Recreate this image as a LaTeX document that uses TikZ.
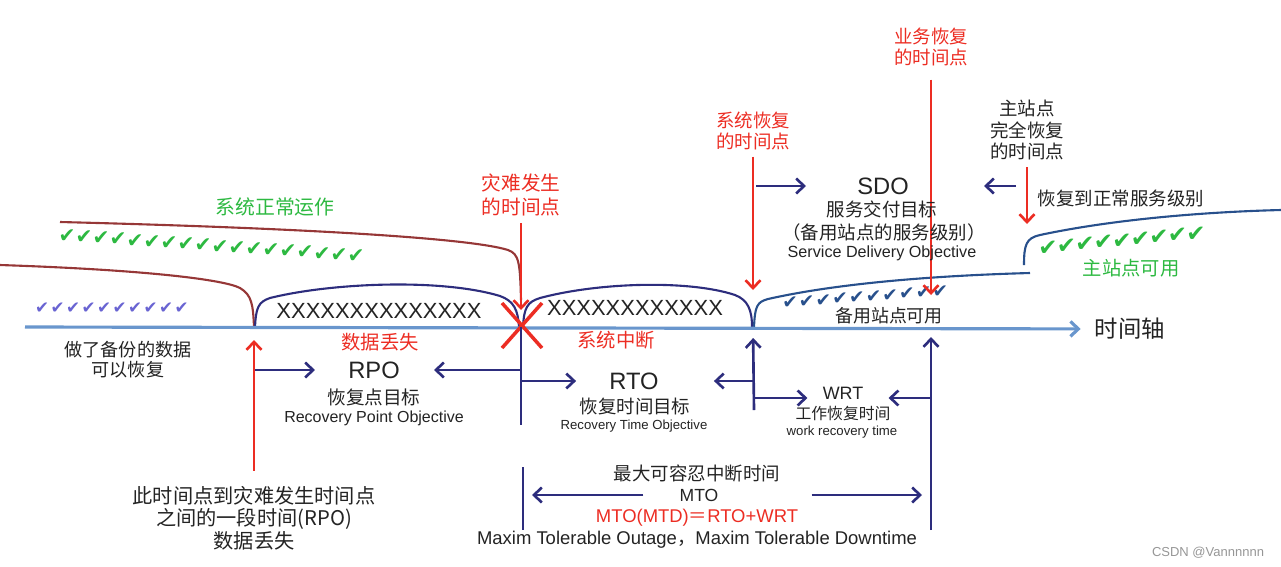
\documentclass[tikz,border=0pt]{standalone}
\usepackage{fontspec}
\setmainfont{Liberation Sans}
\newfontfamily\cjk{Noto Sans CJK SC}
\newfontfamily\dejavu{DejaVu Sans}
\usetikzlibrary{arrows.meta}
\definecolor{red1}{RGB}{236, 45, 35}
\definecolor{green1}{RGB}{45, 185, 65}
\definecolor{navy1}{RGB}{45, 45, 125}
\definecolor{brown1}{RGB}{150, 55, 55}
\definecolor{blue1}{RGB}{40, 80, 140}
\definecolor{axis1}{RGB}{105, 150, 205}
\definecolor{purple1}{RGB}{105, 100, 210}
\definecolor{ink1}{RGB}{35, 35, 35}
\definecolor{gray1}{RGB}{150, 150, 150}
\newcommand{\fsz}[2]{\fontsize{#1}{#2}\selectfont}

\begin{document}
\begin{tikzpicture}[x=0.02cm, y=-0.02cm, line width=1.5pt,
  >={Straight Barb[length=4.5pt,width=8.5pt]},
  txt/.style={inner sep=0pt, align=center, text=ink1},
  zh/.style={txt, font=\cjk\fsz{10.5pt}{12.2pt}},
  redzh/.style={zh, text=red1},
  title/.style={txt, font=\fsz{13.5pt}{14pt}},
  navyarr/.style={draw=navy1, ->},
  redarr/.style={draw=red1, ->},
  curve/.style={line width=1.2pt},
  gchk/.style={inner sep=0pt, text=green1, font=\dejavu\fsz{11.5pt}{11.5pt}},
  pchk/.style={inner sep=0pt, text=purple1, font=\dejavu\fsz{9.5pt}{9.5pt}},
  bchk/.style={inner sep=0pt, text=blue1, font=\dejavu\fsz{10.5pt}{10.5pt}}]
\useasboundingbox (0,0) rectangle (1281,566);

% service level curves
\draw[curve, brown1] (60,222) .. controls (300,228) and (470,238) .. (508,250) .. controls (519,254) and (520,262) .. (521,300);
\draw[curve, brown1] (0,265) .. controls (150,270) and (225,280) .. (240,288) .. controls (252,295) and (253,305) .. (254,327);
\draw[curve, navy1] (255,327) .. controls (256,308) and (258,302) .. (270,298) .. controls (330,283) and (440,278) .. (500,296) .. controls (514,301) and (518,310) .. (519,327);
\draw[curve, navy1] (523,327) .. controls (524,308) and (527,302) .. (540,298) .. controls (600,282) and (690,280) .. (735,295) .. controls (748,300) and (752,310) .. (752,327);
\draw[curve, blue1] (754,327) .. controls (755,306) and (757,302) .. (768,299) .. controls (830,285) and (920,276) .. (1030,273);
\draw[curve, blue1] (1024,265) .. controls (1024,245) and (1026,238) .. (1040,235) .. controls (1110,220) and (1200,212) .. (1281,210);

% checks
\foreach \i in {0,...,17}
  \node[gchk] (gl\i) at ({67+17*\i},{236+1.18*\i}) {✔};
\foreach \i in {0,...,9}
  \node[pchk] (pl\i) at ({42+15.5*\i},308) {✔};
\foreach \i in {0,...,9}
  \node[bchk] (bm\i) at ({790+16.7*\i},{303-1.3*\i}) {✔};
\foreach \i in {0,...,8}
  \node[gchk, font=\dejavu\fsz{13pt}{13pt}] (gr\i) at ({1048+18.5*\i},{248-1.75*\i}) {✔};

% time axis
\coordinate (t0) at (25,327);
\coordinate (tloss) at (254,327);
\coordinate (tdis) at (521,327);
\coordinate (tsys) at (753,327);
\coordinate (tbiz) at (931,327);
\node[zh, font=\cjk\fsz{13.3pt}{14pt}] (axlbl) at (1130,329) {时间轴};
\draw[axis1, line width=1.8pt, ->, shorten >=0.26cm] (t0) -- (axlbl);
\draw[red1, line width=2pt] (502,303) -- (542,348) (542,303) -- (502,348);

% labels on the levels
\node[zh, text=green1, font=\cjk\fsz{11.3pt}{12pt}] (normal) at (275,207) {系统正常运作};
\node[txt, font=\fsz{12.5pt}{13pt}] (xx1) at (379,311) {XXXXXXXXXXXXXX};
\node[txt, font=\fsz{12.5pt}{13pt}] (xx2) at (635,308) {XXXXXXXXXXXX};
\node[redzh, font=\cjk\fsz{11pt}{12pt}] (lossA) at (380,342) {数据丢失};
\node[redzh, font=\cjk\fsz{11pt}{12pt}] (outage) at (616,340) {系统中断};
\node[zh, font=\cjk\fsz{10.3pt}{11.4pt}] (backup) at (128,360) {做了备份的数据\\可以恢复};
\node[zh] (restore) at (1121,198) {恢复到正常服务级别};
\node[zh, text=green1, font=\cjk\fsz{11pt}{12pt}] (mainok) at (1131,268) {主站点可用};
\node[zh, font=\cjk\fsz{10.2pt}{12pt}] (standby) at (889,316) {备用站点可用};

% time points
\node[redzh, font=\cjk\fsz{11.2pt}{13.2pt}] (dis) at (521,195) {灾难发生\\的时间点};
\draw[redarr, shorten <=0.12cm, shorten >=0.34cm] (dis) -- (tdis);
\node[redzh] (sysrec) at (753,131) {系统恢复\\的时间点};
\draw[redarr, shorten <=0.1cm, shorten >=0.74cm] (sysrec) -- (tsys);
\node[redzh] (bizrec) at (931,47) {业务恢复\\的时间点};
\draw[redarr, shorten <=0.24cm, shorten >=0.64cm] (bizrec) -- (tbiz);
\node[zh] (mainrec) at (1027,130) {主站点\\完全恢复\\的时间点};
\coordinate (tmain) at (1027,224);
\draw[redarr, shorten <=0.12cm] (mainrec) -- (tmain);
\node[zh, font=\cjk\fsz{11.5pt}{12.8pt}] (losstxt) at (254,518) {此时间点到灾难发生时间点\\之间的一段时间(RPO)\\数据丢失};
\draw[redarr, shorten <=0.28cm, shorten >=0.26cm] (losstxt) -- (tloss);

% RPO
\node[title] (rpo) at (374,370) {RPO};
\node[zh, font=\cjk\fsz{10.6pt}{12pt}] (rpozh) at (374,397) {恢复点目标};
\node[txt, font=\fsz{9.1pt}{10pt}] (rpoen) at (374,418) {Recovery Point Objective};
\coordinate (rpoL) at (255,370);
\coordinate (rpoR) at (521,370);
\draw[navyarr, shorten >=0.64cm] (rpoL) -- (rpo);
\draw[navyarr, shorten >=0.66cm] (rpoR) -- (rpo);

% RTO
\coordinate (rtoB) at (521,425);
\draw[navy1] (tdis) -- (rtoB);
\node[title] (rto) at (634,381) {RTO};
\node[zh] (rtozh) at (635,406) {恢复时间目标};
\node[txt, font=\fsz{7.5pt}{9pt}] (rtoen) at (634,426) {Recovery Time Objective};
\coordinate (rtoL) at (521,381);
\coordinate (rtoR) at (754,381);
\draw[navyarr, shorten >=0.64cm] (rtoL) -- (rto);
\draw[navyarr, shorten >=1.08cm] (rtoR) -- (rto);

% WRT
\node[txt, font=\fsz{10.2pt}{11pt}] (wrt) at (843,393) {WRT};
\node[zh, font=\cjk\fsz{9pt}{10pt}] (wrtzh) at (843,413) {工作恢复时间};
\node[txt, font=\fsz{7.5pt}{9pt}] (wrten) at (842,432) {work recovery time};
\coordinate (wrtB) at (754,410);
\coordinate (wrtL) at (754,398);
\coordinate (wrtR) at (931,398);
\draw[navyarr, shorten >=0.22cm] (wrtB) -- (tsys);
\draw[navyarr, shorten >=0.28cm] (wrtL) -- (wrtL -| wrt.west);
\draw[navyarr, shorten >=0.48cm] (wrtR) -- (wrtR -| wrt.east);

% MTO
\coordinate (mtoT) at (523,467);
\coordinate (mtoL) at (523,530);
\coordinate (mtoR) at (931,530);
\draw[navy1] (mtoT) -- (mtoL);
\draw[navyarr, shorten >=0.2cm] (mtoR) -- (tbiz);
\node[zh] (mtozh) at (697,473) {最大可容忍中断时间};
\node[txt, font=\fsz{10pt}{11pt}] (mto) at (699,495) {MTO};
\node[txt, text=red1, font=\fsz{10.5pt}{12pt}] (mtoeq) at (697,518) {MTO(MTD){\cjk ＝}RTO+WRT};
\node[txt, font=\fsz{10.5pt}{12pt}] (mtoen) at (697,540) {Maxim Tolerable Outage{\cjk ，}Maxim Tolerable Downtime};
\draw[navyarr, shorten <=0.7cm, shorten >=0.18cm] (mto.west) -- (mto.west -| mtoT);
\draw[navyarr, shorten <=1.84cm, shorten >=0.18cm] (mto.east) -- (mto.east -| mtoR);

% SDO
\node[title] (sdo) at (883,186) {SDO};
\node[zh] (sdozh) at (882,209) {服务交付目标};
\node[zh] (sdolvl) at (884,232) {（备用站点的服务级别）};
\node[txt, font=\fsz{9.2pt}{10pt}] (sdoen) at (882,253) {Service Delivery Objective};
\coordinate (sdoL) at (756,186);
\coordinate (sdoR) at (1016,186);
\draw[navyarr, shorten >=1cm] (sdoL) -- (sdo);
\draw[navyarr, shorten >=1.48cm] (sdoR) -- (sdo);

\node[txt, text=gray1, font=\fsz{7.4pt}{8pt}] (mark) at (1208,553) {CSDN @Vannnnnn};
\end{tikzpicture}
\end{document}
